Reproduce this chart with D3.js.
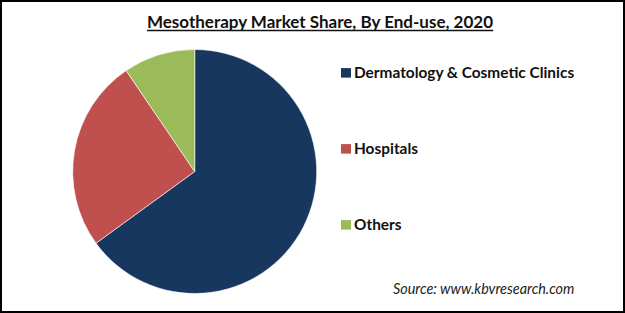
<!DOCTYPE html>
<html>
<head>
<meta charset="utf-8">
<script src="https://cdn.jsdelivr.net/npm/d3@7"></script>
<style>
  body { margin: 0; background: #fff; }
  svg { display: block; }
</style>
</head>
<body>
<div id="chart"></div>
<script>
// values
var segments = ["Dermatology & Cosmetic Clinics", "Hospitals", "Others"];
var shares = [65, 25.5, 9.5];
var colors = ["#17375e", "#c0504d", "#9bbb59"];

var title = "Mesotherapy Market Share, By End-use, 2020";
var source = "Source: www.kbvresearch.com";

var width = 625, height = 313;

var svg = d3.select("#chart").append("svg")
	.attr("width", width)
	.attr("height", height);

svg.append("rect")
	.attr("x", 1).attr("y", 1)
	.attr("width", width - 2).attr("height", height - 2)
	.style("fill", "#fff")
	.style("stroke", "#000")
	.style("stroke-width", 2);

var t = svg.append("text")
	.attr("x", 320)
	.attr("y", 28)
	.style("text-anchor", "middle")
	.style("font-family", "Lato, 'Open Sans', sans-serif")
	.style("font-weight", "bold")
	.style("font-size", "17px")
	.style("fill", "#111")
	.text(title);

// underline
var tb = t.node().getBBox();
svg.append("line")
	.attr("x1", tb.x).attr("x2", tb.x + tb.width)
	.attr("y1", 30.5).attr("y2", 30.5)
	.style("stroke", "#111")
	.style("stroke-width", 1.3);

var data = segments.map(function(d, i){ return {name: d, value: shares[i], color: colors[i]}; });

var pie = d3.pie()
	.sort(null)
	.value(function(d){ return d.value; });

var arc = d3.arc()
	.innerRadius(0)
	.outerRadius(122);

var g = svg.append("g")
	.attr("transform", "translate(194.7,171.5)");

g.selectAll("path")
	.data(pie(data)).enter()
	.append("path")
	.attr("d", arc)
	.style("fill", function(d){ return d.data.color; })
	.style("stroke", "#fff")
	.style("stroke-width", 0.6);

var legendY = d3.scalePoint()
	.domain(segments)
	.range([72.8, 224.8]);

var leg = svg.selectAll(".legend")
	.data(data).enter()
	.append("g")
	.attr("class", "legend")
	.attr("transform", function(d){ return "translate(341," + legendY(d.name) + ")"; });

leg.append("rect")
	.attr("x", 0).attr("y", -4.7)
	.attr("width", 10).attr("height", 9.5)
	.style("fill", function(d){ return d.color; });

leg.append("text")
	.attr("x", 13)
	.attr("y", 5.3)
	.style("font-family", "Lato, 'Open Sans', sans-serif")
	.style("font-weight", "bold")
	.style("font-size", "15.4px")
	.style("fill", "#111")
	.text(function(d){ return d.name; });

svg.append("text")
	.attr("x", 393)
	.attr("y", 294)
	.style("font-family", "Lato, 'Open Sans', sans-serif")
	.style("font-style", "italic")
	.style("font-size", "14.4px")
	.style("fill", "#222")
	.text(source);
</script>
</body>
</html>
